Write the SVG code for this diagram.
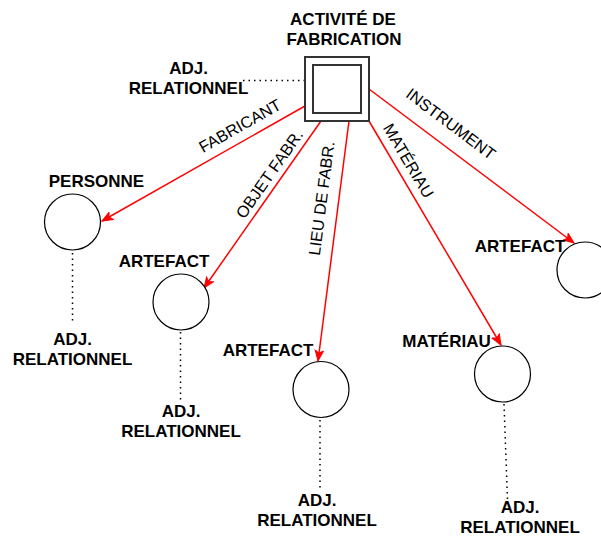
<svg xmlns="http://www.w3.org/2000/svg" width="601" height="537" viewBox="0 0 601 537">
<defs>
<style>
.b{font-family:"Liberation Sans",Arial,sans-serif;font-weight:bold;font-size:17px;fill:#000;text-anchor:middle}
.e{font-family:"Liberation Sans",Arial,sans-serif;font-size:16.3px;fill:#000;text-anchor:middle}
.c{fill:#fff;stroke:#000;stroke-width:1.2}
.d{fill:none;stroke:#000;stroke-width:1.5;stroke-dasharray:1.5 4}
.a{fill:none;stroke:#f00;stroke-width:1.5;marker-end:url(#ar)}
</style>
<marker id="ar" markerUnits="userSpaceOnUse" markerWidth="12" markerHeight="10" viewBox="0 0 12 10" refX="11" refY="5" orient="auto">
<path d="M0.5,0.8 L11,5 L0.5,9.2 L3,5 Z" fill="#f00" stroke="#f00" stroke-width="1"/>
</marker>
</defs>
<rect width="601" height="537" fill="#fff"/>
<g id="connectors">
<line class="d" x1="243" y1="80.5" x2="304" y2="80.5"/>
<line class="d" x1="72.5" y1="253" x2="72.5" y2="322"/>
<line class="d" x1="180.5" y1="332" x2="180.5" y2="402"/>
<line class="d" x1="320" y1="420" x2="320" y2="490"/>
<line class="d" x1="504" y1="404" x2="507.5" y2="500"/>
<line class="a" x1="305" y1="106" x2="102" y2="221"/>
<line class="a" x1="321" y1="121" x2="204" y2="288"/>
<line class="a" x1="349" y1="121" x2="318" y2="361"/>
<line class="a" x1="369" y1="121" x2="501" y2="345"/>
<line class="a" x1="369" y1="89" x2="574" y2="243"/>
<text class="e" transform="translate(240,126) rotate(-29.4)" y="5.5">FABRICANT</text>
<text class="e" transform="translate(269.5,174) rotate(-55)" y="5.5">OBJET FABR.</text>
<text class="e" transform="translate(321.7,198.3) rotate(-82.6)" y="5.5">LIEU DE FABR.</text>
<text class="e" transform="translate(408.3,160.8) rotate(59.5)" y="5.5">MATÉRIAU</text>
<text class="e" transform="translate(450.8,124) rotate(36.9)" y="5.5">INSTRUMENT</text>
</g>
<g id="activite">
<rect x="305" y="57" width="64" height="64" fill="#fff" stroke="#333" stroke-width="2"/>
<rect x="313" y="65" width="48" height="48" fill="#fff" stroke="#333" stroke-width="2"/>
<text class="b" x="343" y="25">ACTIVITÉ DE</text>
<text class="b" x="344" y="45">FABRICATION</text>
</g>
<g id="adj0">
<text class="b" x="188.5" y="74">ADJ.</text>
<text class="b" x="188.5" y="94">RELATIONNEL</text>
</g>
<g id="personne">
<circle class="c" cx="72.5" cy="222" r="28"/>
<text class="b" x="96.5" y="187">PERSONNE</text>
</g>
<g id="adj1">
<text class="b" x="72.5" y="345">ADJ.</text>
<text class="b" x="72.5" y="365">RELATIONNEL</text>
</g>
<g id="artefact1">
<circle class="c" cx="181" cy="302" r="28"/>
<text class="b" x="164" y="267">ARTEFACT</text>
</g>
<g id="adj2">
<text class="b" x="181" y="417">ADJ.</text>
<text class="b" x="181" y="437">RELATIONNEL</text>
</g>
<g id="artefact2">
<circle class="c" cx="321" cy="389.5" r="28"/>
<text class="b" x="268" y="355.5">ARTEFACT</text>
</g>
<g id="adj3">
<text class="b" x="317" y="505.5">ADJ.</text>
<text class="b" x="317" y="526">RELATIONNEL</text>
</g>
<g id="materiau">
<circle class="c" cx="502.5" cy="374" r="28"/>
<text class="b" x="446.5" y="347">MATÉRIAU</text>
</g>
<g id="adj4">
<text class="b" x="520" y="513">ADJ.</text>
<text class="b" x="520" y="533">RELATIONNEL</text>
</g>
<g id="artefact3">
<circle class="c" cx="585" cy="270" r="28"/>
<text class="b" x="520" y="251.5">ARTEFACT</text>
</g>
</svg>
